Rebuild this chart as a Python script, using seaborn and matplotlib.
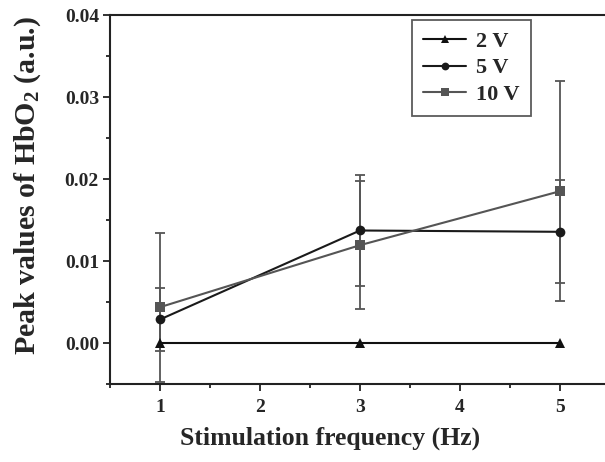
import numpy as np
import pandas as pd
import matplotlib
matplotlib.use("Agg")
import matplotlib.pyplot as plt
import seaborn as sns
from matplotlib.ticker import MultipleLocator

freq = [1, 3, 5]
v2 = [0.0, 0.0, 0.0]
v5 = [0.00287, 0.01372, 0.01356]
v10 = [0.00437, 0.01193, 0.01851]
err5 = [0.0038, 0.0068, 0.0063]
err10 = [0.0091, 0.0078, 0.0134]
labels = ["2 V", "5 V", "10 V"]

sns.set_theme(style="ticks")
plt.rcParams['font.family'] = ['Liberation Serif', 'DejaVu Serif']
plt.rcParams['font.weight'] = 'bold'
plt.rcParams['mathtext.fontset'] = 'custom'
plt.rcParams['mathtext.rm'] = 'Liberation Serif:bold'
plt.rcParams['mathtext.bf'] = 'Liberation Serif:bold'
plt.rcParams['mathtext.it'] = 'Liberation Serif:bold'

df = pd.DataFrame({
    "freq": freq * 3,
    "value": v2 + v5 + v10,
    "series": [labels[0]] * 3 + [labels[1]] * 3 + [labels[2]] * 3,
})

fig = plt.figure(figsize=(6.05, 4.62), dpi=100)
ax = fig.add_axes([110 / 605, 1 - 384 / 462, 1 - 110 / 605, (384 - 15) / 462])

errcol = "#555555"
ax.errorbar(freq, v5, yerr=err5, fmt="none", ecolor=errcol, elinewidth=1.3,
            capsize=3.8, capthick=1.3, zorder=1)
ax.errorbar(freq, v10, yerr=err10, fmt="none", ecolor=errcol, elinewidth=1.3,
            capsize=3.8, capthick=1.3, zorder=1)

palette = {labels[0]: "#111111", labels[1]: "#1a1a1a", labels[2]: "#555555"}
markers = {labels[0]: "^", labels[1]: "o", labels[2]: "s"}
sns.lineplot(data=df, x="freq", y="value", hue="series", style="series",
             palette=palette, markers=markers, dashes=False, markersize=7,
             markeredgewidth=0, linewidth=1.5, ax=ax, zorder=3)

ax.set_xlim(0.5, 5.45)
ax.set_ylim(-0.005, 0.04)
ax.xaxis.set_major_locator(MultipleLocator(1))
ax.xaxis.set_minor_locator(MultipleLocator(0.5))
ax.yaxis.set_major_locator(MultipleLocator(0.01))
ax.yaxis.set_minor_locator(MultipleLocator(0.005))
ax.yaxis.set_major_formatter(matplotlib.ticker.FormatStrFormatter("%.2f"))
ax.tick_params(axis="both", which="major", direction="out", length=5, width=1.3,
               labelsize=14, color="#222222")
ax.tick_params(axis="both", which="minor", direction="out", length=3, width=1.3,
               color="#222222")
for lab in ax.get_xticklabels() + ax.get_yticklabels():
    lab.set_fontweight("bold")
ax.tick_params(axis="x", pad=6)
ax.tick_params(axis="y", pad=3)

for s in ["left", "bottom", "top"]:
    ax.spines[s].set_linewidth(1.5)
    ax.spines[s].set_color("#222222")
ax.spines["right"].set_visible(False)

ax.set_xlabel("Stimulation frequency (Hz)", fontsize=18.5, fontweight="bold")
ax.set_ylabel(r"Peak values of HbO$_\mathbf{2}$ (a.u.)", fontsize=21.5,
              fontweight="bold")
ax.xaxis.set_label_coords(0.444, -0.115)
ax.yaxis.set_label_coords(-0.136, 0.539)

ax.legend(title=None, loc="upper left",
          bbox_to_anchor=((412 - 110) / (605 - 110), 1 - (20 - 15) / 369),
          bbox_transform=ax.transAxes, frameon=True, fancybox=False,
          edgecolor="#333333", prop={"weight": "bold", "size": 16},
          handlelength=1.95, handletextpad=0.45, borderpad=0.5,
          labelspacing=0.28, markerscale=0.8, borderaxespad=0)
ax.get_legend().get_frame().set_linewidth(1.3)

fig.savefig("out.png", dpi=100, facecolor="white")
